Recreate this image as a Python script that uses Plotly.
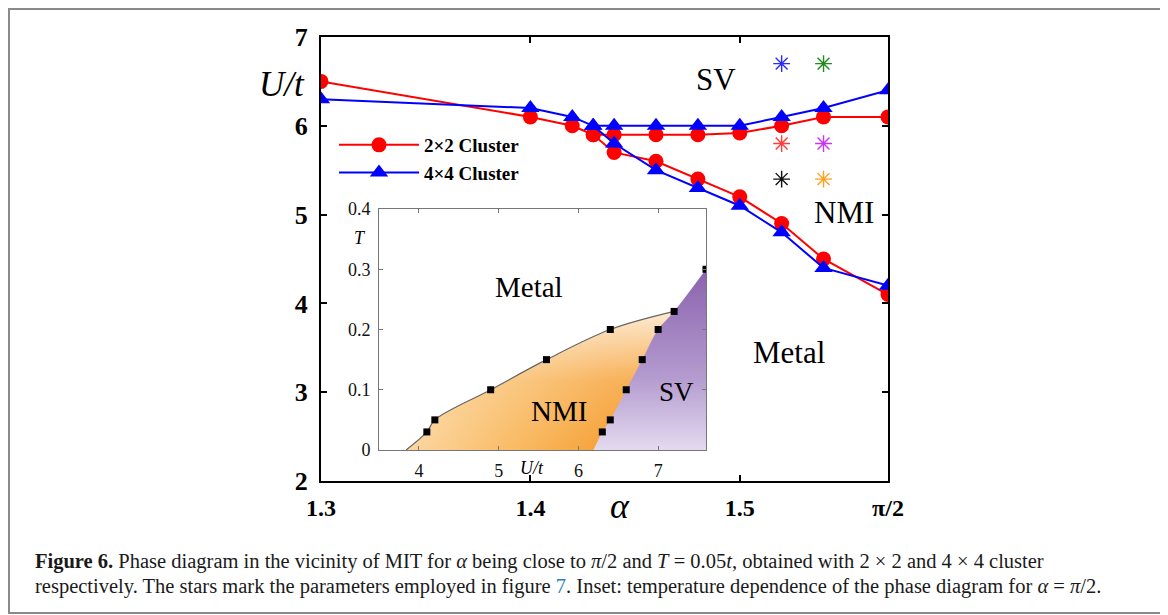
import math
import plotly.graph_objects as go

PI_HALF = math.pi / 2

# ---------------- main panel data ----------------
alpha_shared = [1.30, 1.40, 1.42, 1.43]
alpha_branch = [1.44, 1.46, 1.48, 1.50, 1.52, 1.54, PI_HALF]
u2_shared = [6.5, 6.1, 6.0, 5.9]
u2_upper = [5.9, 5.9, 5.9, 5.92, 6.0, 6.1, 6.1]
u2_lower = [5.7, 5.6, 5.4, 5.2, 4.9, 4.5, 4.1]
u4_shared = [6.3, 6.2, 6.1, 6.0]
u4_upper = [6.0, 6.0, 6.0, 6.0, 6.1, 6.2, 6.4]
u4_lower = [5.8, 5.5, 5.3, 5.1, 4.8, 4.4, 4.2]

star_alpha = [1.52, 1.54, 1.52, 1.54, 1.52, 1.54]
star_u = [6.7, 6.7, 5.8, 5.8, 5.4, 5.4]
star_colors = ["#2b2bff", "#1e8c1e", "#ff3b3b", "#cc33ee", "#111111", "#ff9f1a"]

x_tickvals = [1.3, 1.4, 1.5, PI_HALF]
x_ticktext = ["1.3", "1.4", "1.5", "π/2"]
y_tickvals = [2, 3, 4, 5, 6, 7]

# ---------------- inset data ----------------
mn_U = [3.84, 4.1, 4.2, 4.9, 5.6, 6.4, 7.2]      # Metal / NMI boundary
mn_T = [0.0, 0.03, 0.05, 0.10, 0.15, 0.20, 0.23]
sv_U = [6.19, 6.3, 6.4, 6.6, 6.8, 7.0, 7.2, 7.6]  # NMI / SV boundary
sv_T = [0.0, 0.03, 0.05, 0.10, 0.15, 0.20, 0.23, 0.30]
sq_U = [4.1, 4.2, 4.9, 5.6, 6.4, 7.2, 7.6, 6.3, 6.4, 6.6, 6.8, 7.0]
sq_T = [0.03, 0.05, 0.10, 0.15, 0.20, 0.23, 0.30, 0.03, 0.05, 0.10, 0.15, 0.20]
inset_xticks = [4, 5, 6, 7]
inset_yticks = [0, 0.1, 0.2, 0.3, 0.4]
inset_yticktext = ["0", "0.1", "0.2", "0.3", "0.4"]

# ---------------- geometry helpers (screen px; page body has 8px margin) ----------------
SCREEN_W, SCREEN_H = 1168, 615
OFF = 8
W, H = SCREEN_W - OFF, SCREEN_H - OFF
L, R, T, B = 321, 888, 37, 481


def px(x, y):
    return (x - L) / (R - L), (B - y) / (B - T)


SERIF = "Liberation Serif"

fig = go.Figure()

# 2x2 cluster (red circles)
fig.add_trace(go.Scatter(
    x=alpha_shared + alpha_branch + [None] + alpha_shared[-1:] + alpha_branch,
    y=u2_shared + u2_upper + [None] + u2_shared[-1:] + u2_lower,
    mode="lines+markers", name="2×2 Cluster",
    line=dict(color="#ff0000", width=2),
    marker=dict(symbol="circle", size=15, color="#ff0000"),
))
# 4x4 cluster (blue triangles)
fig.add_trace(go.Scatter(
    x=alpha_shared + alpha_branch + [None] + alpha_shared[-1:] + alpha_branch,
    y=u4_shared + u4_upper + [None] + u4_shared[-1:] + u4_lower,
    mode="lines+markers", name="4×4 Cluster",
    line=dict(color="#0000ff", width=2),
    marker=dict(symbol="triangle-up", size=16, color="#0000ff"),
))
# stars
fig.add_trace(go.Scatter(
    x=star_alpha, y=star_u, mode="markers", showlegend=False,
    marker=dict(symbol="asterisk-open", size=14,
                line=dict(color=star_colors, width=1.4), color=star_colors),
))

# ---------------- inset traces ----------------
fig.add_trace(go.Scatter(
    x=mn_U, y=mn_T, xaxis="x2", yaxis="y2", mode="lines", showlegend=False,
    line=dict(width=0, shape="spline"), fill="tozeroy",
    fillgradient=dict(type="horizontal",
                      colorscale=[[0, "#fcd7a2"], [0.4, "#f9bb64"], [0.75, "#f6a136"], [1, "#f5981f"]]),
))
fig.add_trace(go.Scatter(
    x=mn_U, y=mn_T, xaxis="x2", yaxis="y2", mode="lines", showlegend=False,
    line=dict(width=0, shape="spline"), fill="tozeroy",
    fillgradient=dict(type="vertical",
                      colorscale=[[0, "rgba(255,255,255,0)"], [0.5, "rgba(255,255,255,0.2)"],
                                  [1, "rgba(255,255,255,0.8)"]]),
))
fig.add_trace(go.Scatter(
    x=sv_U, y=sv_T, xaxis="x2", yaxis="y2", mode="lines", showlegend=False,
    line=dict(width=0, shape="spline"), fill="tozeroy",
    fillgradient=dict(type="vertical",
                      colorscale=[[0, "#e4daef"], [0.4, "#b49bcf"], [1, "#8a62ad"]]),
))
fig.add_trace(go.Scatter(
    x=mn_U, y=mn_T, xaxis="x2", yaxis="y2", mode="lines", showlegend=False,
    line=dict(width=1.2, color="#666666", shape="spline"),
))
fig.add_trace(go.Scatter(
    x=sq_U, y=sq_T, xaxis="x2", yaxis="y2", mode="markers", showlegend=False,
    marker=dict(symbol="square", size=7, color="#000000"),
))

# ---------------- annotations ----------------
ann = []


def text(x, y, s, size, italic=False, bold=False, color="#000", xanchor="center"):
    xp, yp = px(x, y)
    ann.append(dict(x=xp, y=yp, xref="paper", yref="paper", text=s, showarrow=False,
                    xanchor=xanchor, yanchor="middle",
                    font=dict(family=SERIF, size=size, color=color,
                              style="italic" if italic else "normal",
                              weight="bold" if bold else "normal")))


text(282, 84, "U/t", 35, italic=True)
text(620, 506, "α", 36, italic=True)
text(716, 79, "SV", 31)
text(844, 213, "NMI", 31)
text(789, 352, "Metal", 31)
# inset labels
text(529, 287, "Metal", 29)
text(559, 411, "NMI", 29)
text(676, 392, "SV", 27)
text(360, 238, "T", 18, italic=True)
text(532, 468, "U/t", 18, italic=True)

line1 = ("<b>Figure 6.</b> Phase diagram in the vicinity of MIT for <i>α</i> being close to "
         "<i>π</i>/2 and <i>T</i> = 0.05<i>t</i>, obtained with 2 × 2 and 4 × 4 cluster")
line2 = ("respectively. The stars mark the parameters employed in figure "
         "<span style='color:#2a7fc0'>7</span>. Inset: temperature dependence of the phase "
         "diagram for <i>α</i> = <i>π</i>/2.")
text(33, 561, line1, 20.5, xanchor="left", color="#1a1a1a")
text(33, 586, line2, 20.5, xanchor="left", color="#1a1a1a")

fx0, fy0 = px(9, 613)
fx1, fy1 = px(1162, 9)

ix0, iy0 = px(379, 450)
ix1, iy1 = px(706, 209)

fig.update_layout(
    width=W, height=H,
    margin=dict(l=L - OFF, r=SCREEN_W - R, t=T - OFF, b=SCREEN_H - B),
    paper_bgcolor="white", plot_bgcolor="white",
    font=dict(family=SERIF, color="#000"),
    xaxis=dict(domain=[0, 1], range=[1.3, PI_HALF], tickvals=x_tickvals, ticktext=x_ticktext,
               showgrid=False, zeroline=False, showline=True, linecolor="#000", linewidth=2,
               mirror="ticks", ticks="inside", ticklen=6, tickwidth=1.5, tickcolor="#000",
               tickfont=dict(family=SERIF, size=24, weight="bold"), ticklabelstandoff=4),
    yaxis=dict(domain=[0, 1], range=[2, 7], tickvals=y_tickvals,
               showgrid=False, zeroline=False, showline=True, linecolor="#000", linewidth=2,
               mirror="ticks", ticks="inside", ticklen=6, tickwidth=1.5, tickcolor="#000",
               tickfont=dict(family=SERIF, size=26, weight="bold"), ticklabelstandoff=6),
    xaxis2=dict(domain=[ix0, ix1], anchor="y2", range=[3.5, 7.6], tickvals=inset_xticks,
                showgrid=False, zeroline=False, showline=True, linecolor="#777", linewidth=1,
                mirror="ticks", ticks="inside", ticklen=4, tickcolor="#777",
                tickfont=dict(family=SERIF, size=18, color="#111"), ticklabelstandoff=4),
    yaxis2=dict(domain=[iy0, iy1], anchor="x2", range=[0, 0.4], tickvals=inset_yticks,
                ticktext=inset_yticktext,
                showgrid=False, zeroline=False, showline=True, linecolor="#777", linewidth=1,
                mirror="ticks", ticks="inside", ticklen=4, tickcolor="#777",
                tickfont=dict(family=SERIF, size=18, color="#111"), ticklabelstandoff=4),
    legend=dict(x=px(334, 0)[0], y=px(0, 126)[1], xanchor="left", yanchor="top",
                bgcolor="rgba(0,0,0,0)", itemwidth=80,
                font=dict(family=SERIF, size=19, weight="bold")),
    annotations=ann,
    shapes=[dict(type="rect", xref="paper", yref="paper", x0=fx0, y0=fy0, x1=fx1, y1=fy1,
                 line=dict(color="#8a8a8a", width=2), layer="below")],
)

fig.write_html("out.html")
